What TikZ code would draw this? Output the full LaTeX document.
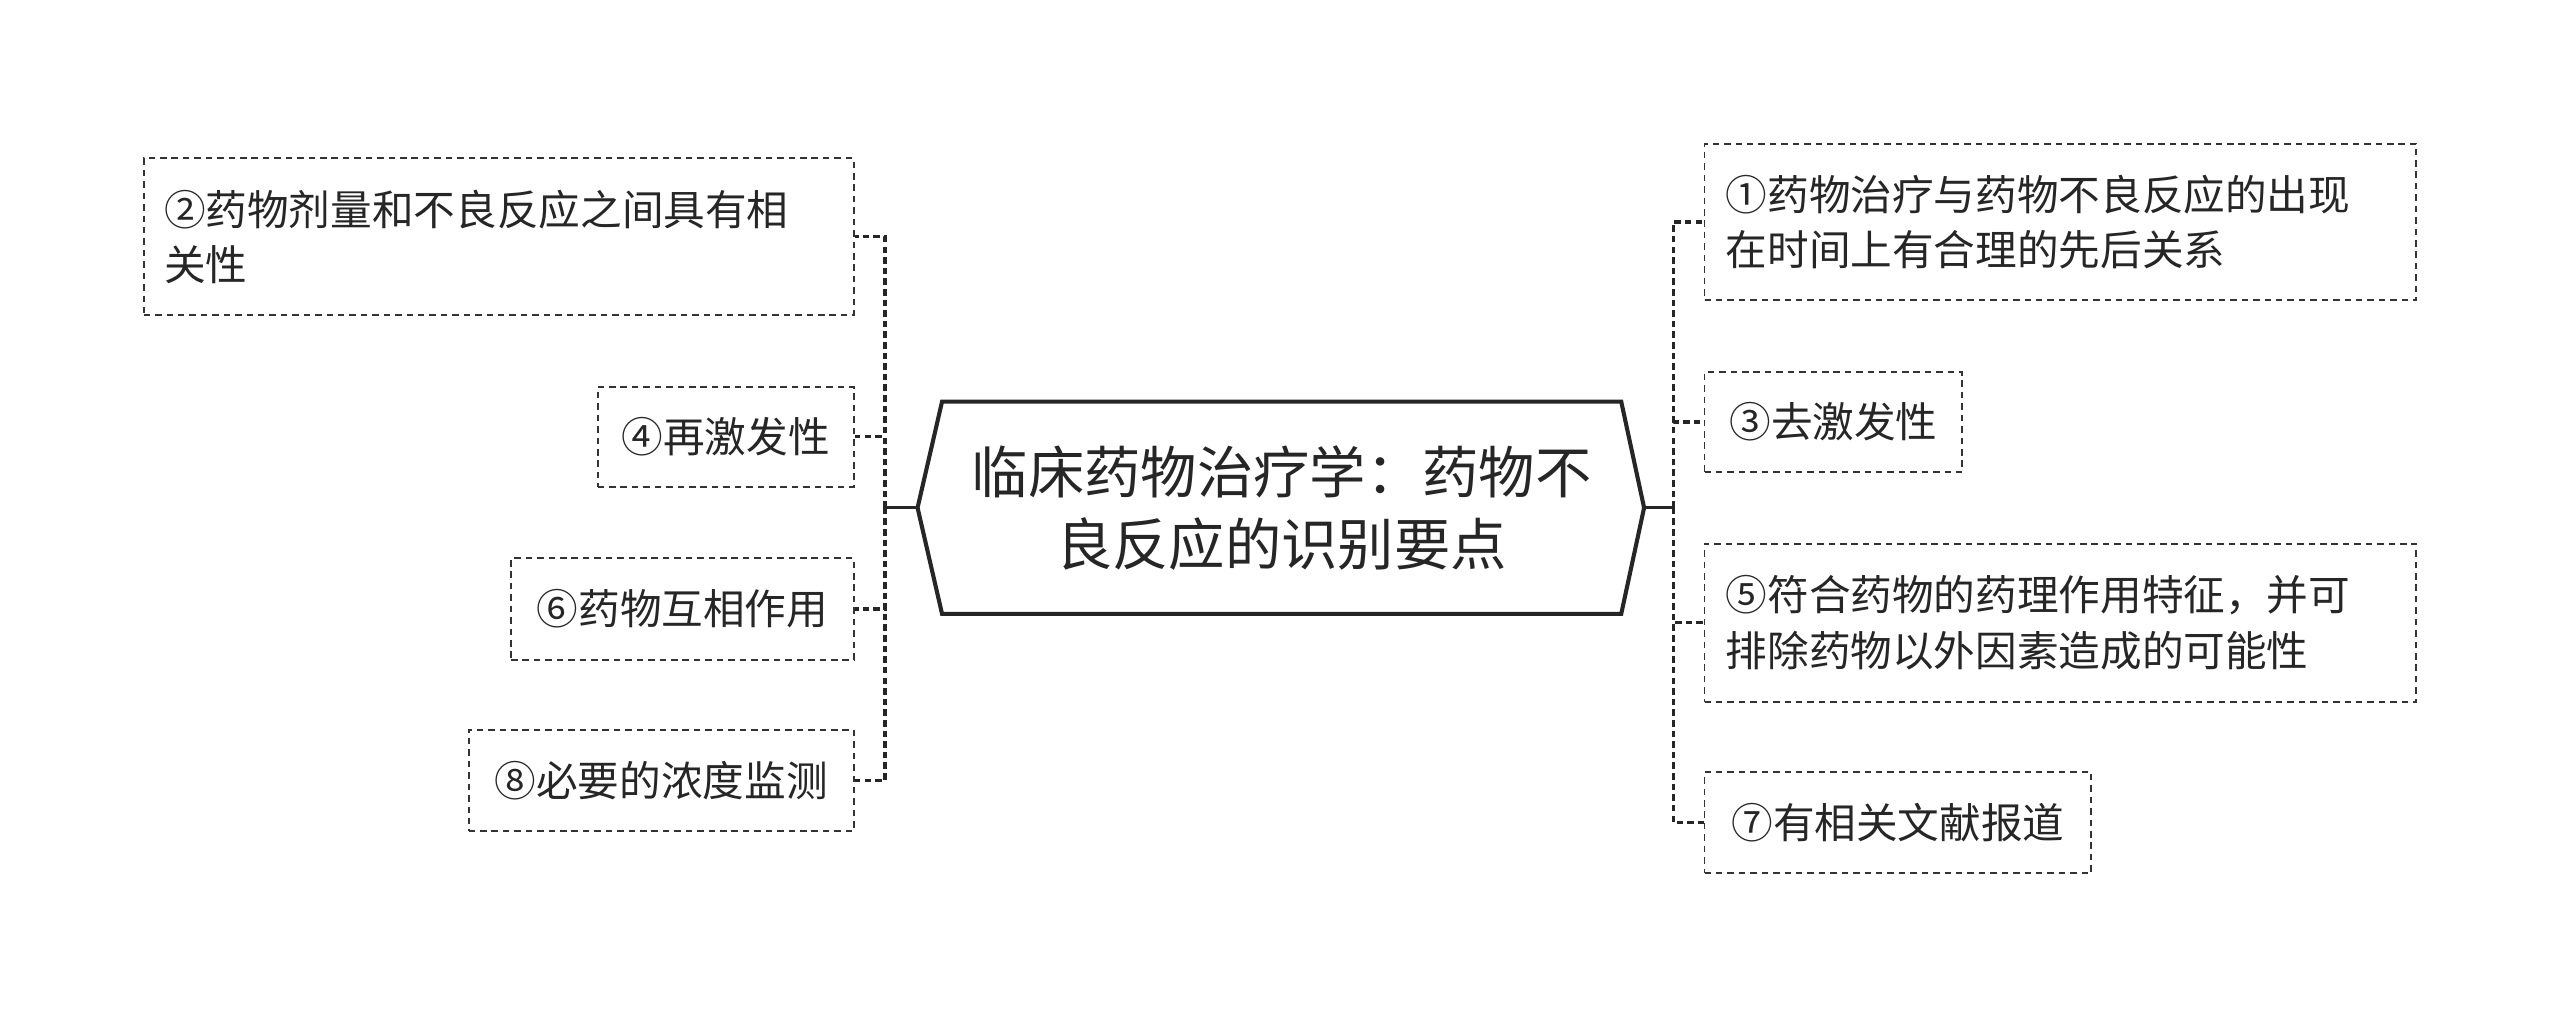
\documentclass[tikz,border=0pt]{standalone}
\usepackage{fontspec}
\setmainfont{Noto Sans CJK SC}
\begin{document}
\begin{tikzpicture}[x=1pt,y=-1pt,
  leaf/.style={draw=black!80,line width=1.2pt,dash pattern=on 4pt off 3pt,font=\fontsize{25.5}{34}\selectfont,inner sep=0pt,align=left,text=black!85},
  conn/.style={draw=black!85,line width=2pt,dash pattern=on 4pt off 2.5pt}]
\useasboundingbox (0,0) rectangle (1568,623);
\fill[white] (0,0) rectangle (1568,623);
% root
\draw[line width=2.5pt,black!85] (562,311) -- (577,246) -- (993,246) -- (1007,311) -- (993,376) -- (577,376) -- cycle;
\node[font=\fontsize{34.5}{44}\selectfont,align=center,text=black!85] (root) at (785,311) {临床药物治疗学：药物不\\良反应的识别要点};
\coordinate (rw) at (562,311);
\coordinate (re) at (1007,311);
\coordinate (hl) at (542,311);
\coordinate (hr) at (1025,311);
% left leaves
\node[leaf,minimum width=435pt,minimum height=96pt,text width=410pt] (n2) at (305.5,145) {②药物剂量和不良反应之间具有相\\关性};
\node[leaf,minimum width=157pt,minimum height=61pt] (n4) at (444.5,267.5) {④再激发性};
\node[leaf,minimum width=210pt,minimum height=62pt] (n6) at (418,373) {⑥药物互相作用};
\node[leaf,minimum width=236pt,minimum height=62pt] (n8) at (405,478) {⑧必要的浓度监测};
% right leaves
\node[leaf,minimum width=436pt,minimum height=96pt,text width=410pt] (n1) at (1262,136) {①药物治疗与药物不良反应的出现\\在时间上有合理的先后关系};
\node[leaf,minimum width=158pt,minimum height=61pt] (n3) at (1123,258.5) {③去激发性};
\node[leaf,minimum width=436pt,minimum height=97pt,text width=410pt] (n5) at (1262,381.5) {⑤符合药物的药理作用特征，并可\\排除药物以外因素造成的可能性};
\node[leaf,minimum width=237pt,minimum height=62pt] (n7) at (1162.5,504) {⑦有相关文献报道};
% connectors
\draw[line width=2pt,black!85] (rw) -- (hl);
\draw[line width=2pt,black!85] (re) -- (hr);
\foreach \n in {n2,n4,n6,n8} \draw[conn] (hl) |- (\n.east);
\foreach \n in {n1,n3,n5,n7} \draw[conn] (hr) |- (\n.west);
\end{tikzpicture}
\end{document}
